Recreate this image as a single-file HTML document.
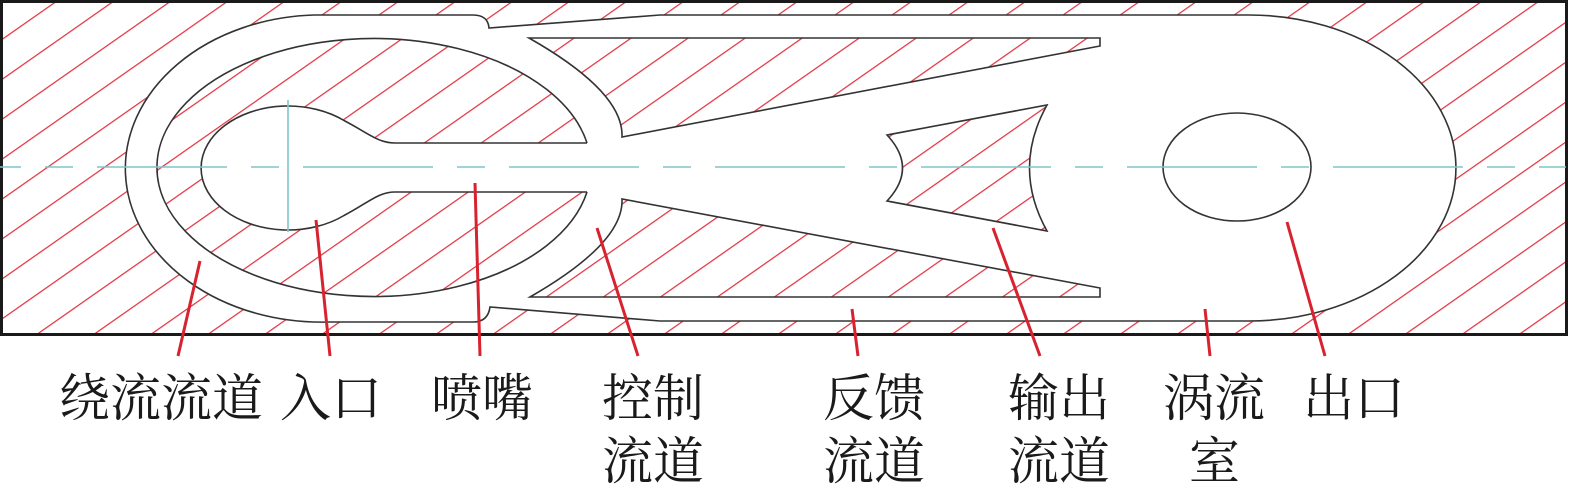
<!DOCTYPE html>
<html><head><meta charset="utf-8"><style>
html,body{margin:0;padding:0;background:#fff;}
svg{display:block;}
text{font-family:"Liberation Serif","Noto Serif CJK SC",serif;font-size:51px;fill:#1a1a1a;}
</style></head><body>
<svg width="1578" height="494" viewBox="0 0 1578 494" xmlns="http://www.w3.org/2000/svg">
<defs>
<pattern id="h" patternUnits="userSpaceOnUse" width="200" height="32.7" patternTransform="translate(53,3) rotate(-35)">
<rect width="200" height="32.7" fill="#fff"/>
<line x1="0" y1="0" x2="200" y2="0" stroke="#e03442" stroke-width="2.6"/>
</pattern>
</defs>
<rect x="1.5" y="1.5" width="1565" height="333" fill="url(#h)" stroke="#1a1a1a" stroke-width="3"/>
<!-- cavity -->
<path d="M314,15 L473,15 Q488,15 489,28 L660,15 L1249,15 A207 153 0 0 1 1249,321 L660,321 L490,307 Q488,322 473,322 L329,322 A196 153.5 0 0 1 314,15 Z" fill="#fff" stroke="#333" stroke-width="1.6"/>
<!-- inner island -->
<ellipse cx="374" cy="167" rx="217" ry="129" fill="url(#h)"/>
<path d="M600,143 L395,143 C378,143 368,133 344,120.5 A87 62 0 1 0 344,215.5 C368,203 378,192 395,192 L600,192 Z" fill="#fff"/>
<path d="M587,143 A217 129 0 1 0 587,192" fill="none" stroke="#333" stroke-width="1.6"/>
<path d="M587,143 L395,143 C378,143 368,133 344,120.5 A87 62 0 1 0 344,215.5 C368,203 378,192 395,192 L587,192" fill="none" stroke="#333" stroke-width="1.6"/>
<!-- control islands -->
<path d="M529,38 L1100,38 L1100,46 L622,137 Q624,92 529,38 Z" fill="url(#h)" stroke="#333" stroke-width="1.6"/>
<path d="M530,297 L1100,297 L1100,288 L622,199 Q624,243 530,297 Z" fill="url(#h)" stroke="#333" stroke-width="1.6"/>
<!-- output island -->
<path d="M887,135 L1047,105 Q1012,168 1047,231 L887,201 Q918,168 887,135 Z" fill="url(#h)" stroke="#333" stroke-width="1.6"/>
<!-- outlet -->
<ellipse cx="1237" cy="167" rx="74" ry="54" fill="#fff" stroke="#333" stroke-width="1.6"/>
<!-- centerlines -->
<line x1="-109" y1="167" x2="1566" y2="167" stroke="#7ec6c9" stroke-width="1.6" stroke-dasharray="130 24 28 24"/>
<line x1="288" y1="100" x2="288" y2="232" stroke="#7ec6c9" stroke-width="1.6"/>
<!-- leaders -->
<g stroke="#d8222f" stroke-width="3">
<line x1="200" y1="261" x2="178" y2="356"/>
<line x1="316" y1="220" x2="330" y2="356"/>
<line x1="475" y1="183" x2="480" y2="356"/>
<line x1="597" y1="228" x2="638" y2="356"/>
<line x1="852" y1="309" x2="858" y2="356"/>
<line x1="993" y1="228" x2="1040" y2="356"/>
<line x1="1205" y1="309" x2="1210" y2="356"/>
<line x1="1287" y1="222" x2="1325" y2="356"/>
</g>
<!-- labels -->
<text x="59" y="416">绕流流道</text>
<text x="280" y="416">入口</text>
<text x="431" y="416">喷嘴</text>
<text x="602" y="416">控制</text>
<text x="602" y="479">流道</text>
<text x="823" y="416">反馈</text>
<text x="823" y="479">流道</text>
<text x="1008" y="416">输出</text>
<text x="1008" y="479">流道</text>
<text x="1163" y="416">涡流</text>
<text x="1189" y="479">室</text>
<text x="1303" y="416">出口</text>
</svg>
</body></html>
